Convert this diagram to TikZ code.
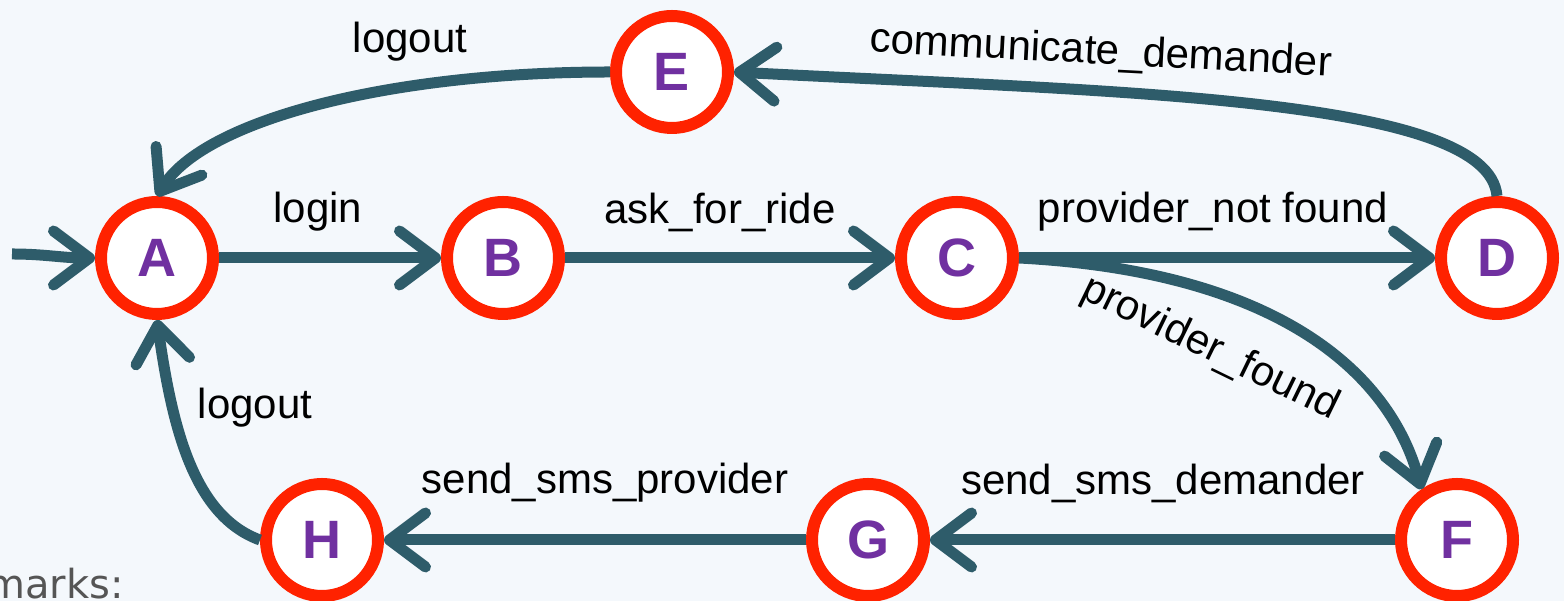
\documentclass[tikz,border=0pt]{standalone}
\usepackage{fontspec}
\setmainfont{Liberation Sans}
\newfontfamily\remarkfont{DejaVu Sans}
\usetikzlibrary{arrows.meta}
\definecolor{bg}{HTML}{F4F8FC}
\definecolor{ring}{HTML}{FF2200}
\definecolor{letter}{HTML}{7030A0}
\definecolor{edgecol}{HTML}{2E5C6A}
\definecolor{remark}{HTML}{555555}
\begin{document}
\begin{tikzpicture}[x=1pt,y=1pt,
  state/.style={circle, draw=ring, line width=12pt, fill=white, minimum size=112pt,
    inner sep=0pt, font=\fontsize{54}{60}\selectfont\bfseries, text=letter},
  edge/.style={draw=edgecol, line width=11pt,
    -{Straight Barb[length=36pt,width=54pt,line cap=round,line join=round]}},
  lbl/.style={font=\fontsize{42}{48}\selectfont, text=black, inner sep=0pt}]
\fill[bg] (0,0) rectangle (1564,601);
\useasboundingbox (0,0) rectangle (1564,601);

\node[state] (A) at (157,343) {A};
\node[state] (B) at (503,343) {B};
\node[state] (C) at (957,343) {C};
\node[state] (D) at (1497,343) {D};
\node[state] (E) at (672,529) {E};
\node[state] (F) at (1457,61) {F};
\node[state] (G) at (868,61) {G};
\node[state] (H) at (322,61) {H};

\coordinate (in0) at (12,347);
\draw[edge] (in0) to[out=0,in=180] (A.west);
\draw[edge] (A) -- (B);
\draw[edge] (B) -- (C);
\draw[edge] (C) -- (D);
\draw[edge] (C.east) to[out=-3,in=105,out distance=260,in distance=120] (F.125);
\draw[edge] (D.north) to[out=95,in=-3,out distance=100,in distance=380] (E.east);
\draw[edge] (E.west) to[out=180,in=58,out distance=220,in distance=90] (A.north);
\draw[edge] (F) -- (G);
\draw[edge] (G) -- (H);
\draw[edge] (H.west) to[out=160,in=-82,out distance=70,in distance=110] (A.south);

\node[lbl] (l1) at (318,389) {login};
\node[lbl] (l2) at (720,389) {ask\_for\_ride};
\node[lbl] (l3) at (1213,389) {provider\_not found};
\node[lbl] (l4) at (410,559) {logout};
\node[lbl, rotate=-3] (l5) at (1101,548) {communicate\_demander};
\node[lbl, rotate=-26] (l6) at (1210,252) {provider\_found};
\node[lbl] (l7) at (1163,118) {send\_sms\_demander};
\node[lbl] (l8) at (605,118) {send\_sms\_provider};
\node[lbl] (l9) at (255,193) {logout};

\node[anchor=base east, inner sep=0pt, font=\remarkfont\fontsize{40}{46}\selectfont, text=remark] (rm) at (124,2) {Remarks:};
\end{tikzpicture}
\end{document}
